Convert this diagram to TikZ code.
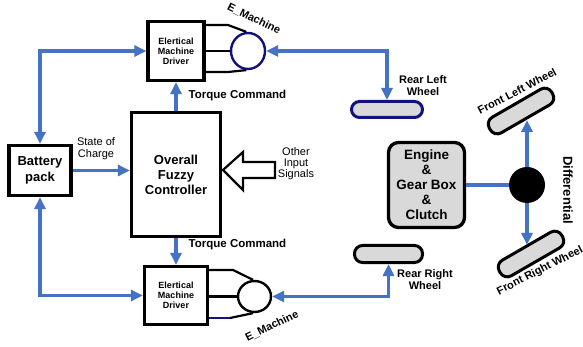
\documentclass[tikz,border=0pt]{standalone}
\usepackage{fontspec}
\setmainfont{Liberation Sans}
\usetikzlibrary{arrows.meta,shapes.geometric}
\definecolor{lblue}{HTML}{4472C4}
\definecolor{navyc}{HTML}{12127E}
\definecolor{wgray}{HTML}{D9D9D9}
\begin{document}
\begin{tikzpicture}[x=1pt,y=-1pt,
  >={Triangle[length=12pt,width=11pt]},
  bl/.style={draw=lblue, line width=3.2pt},
  box/.style={draw, line width=3.3pt, fill=white, align=center, inner sep=0pt},
  wheel/.style={draw, line width=3pt, fill=wgray, rounded corners=8pt, inner sep=0pt},
  wire/.style={draw, line width=2.2pt},
  motor/.style={ellipse, draw, line width=2.4pt, fill=white, inner sep=0pt},
  lbl/.style={font=\bfseries\fontsize{11}{12}\selectfont, align=center, inner sep=0pt},
  txt/.style={font=\fontsize{11}{12}\selectfont, align=center, inner sep=0pt}
]
\useasboundingbox[fill=white] (0,0) rectangle (583,347);

% boxes
\node[box, minimum width=56pt, minimum height=59pt, font=\bfseries\fontsize{9}{10}\selectfont] (tdrv) at (176,51) {Elertical\\Machine\\Driver};
\node[box, minimum width=63pt, minimum height=58pt, font=\bfseries\fontsize{9}{10}\selectfont] (bdrv) at (176,295.5) {Elertical\\Machine\\Driver};
\node[box, minimum width=89pt, minimum height=124pt, font=\bfseries\fontsize{13}{15}\selectfont] (ctrl) at (176,174.5) {Overall\\Fuzzy\\Controller};
\node[box, minimum width=62pt, minimum height=50pt, font=\bfseries\fontsize{13}{16}\selectfont] (bat) at (40,170.5) {Battery\\pack};
\node[box, fill=wgray, rounded corners=10pt, minimum width=76pt, minimum height=85pt, font=\bfseries\fontsize{13.5}{15}\selectfont] (eng) at (426.5,185) {Engine\\\&\\Gear Box\\\&\\Clutch};

% motors
\node[motor, draw=navyc, minimum width=34pt, minimum height=36pt] (tmot) at (248,51) {};
\node[motor, minimum width=33pt, minimum height=31pt] (bmot) at (254.5,296.5) {};

% wheels
\node[wheel, draw=navyc, minimum width=71pt, minimum height=16pt] (rlw) at (387,109.5) {};
\node[wheel, minimum width=68pt, minimum height=17pt] (rrw) at (388.5,254) {};
\node[wheel, rotate=30, minimum width=72pt, minimum height=18pt] (flw) at (521,111) {};
\node[wheel, rotate=30, minimum width=72pt, minimum height=18pt] (frw) at (531,254) {};

% differential
\node[circle, fill=black, minimum size=36pt, inner sep=0pt] (diff) at (527,185) {};

% wires driver -> motor
\coordinate (ta) at (228,25);
\coordinate (tb) at (228,72);
\coordinate (ba) at (233,270);
\coordinate (bb) at (230,318);
\draw[wire] (tdrv.east |- ta) -- (ta) -- (tmot.95);
\draw[wire] (tdrv.east) -- (tmot.west);
\draw[wire] (tdrv.east |- tb) -- (tb) -- (tmot.-95);
\draw[wire] (bdrv.east |- ba) -- (ba) -- (bmot.95);
\draw[wire] (bdrv.east |- bmot.west) -- (bmot.west);
\draw[wire, draw=navyc] (bdrv.east |- bb) -- (bb);
\draw[wire] (bb) -- (bmot.-95);

% blue connectors
\draw[bl, <->] (bat.north) |- (tdrv.west);
\draw[bl, <->] (bat.south) |- (bdrv.west);
\draw[bl, ->] (bat.east) -- (bat.east -| ctrl.west);
\draw[bl, ->] (ctrl.north) -- (tdrv.south);
\draw[bl, ->] (ctrl.south) -- (bdrv.north);
\draw[bl, <->] (tmot.east) -| (rlw.north);
\draw[bl, <->] (bmot.east) -| (rrw.south);
\draw[bl] (eng.east) -- (diff.west);
\draw[bl, ->] (diff.north) -- (diff.north |- flw.south);
\draw[bl, ->] (diff.south) -- (diff.south |- frw.north);

% hollow input arrow
\draw[line width=2.2pt, fill=white, line join=miter]
  (223,170) -- (243,152) -- (243,162) -- (275,162) -- (275,178) -- (243,178) -- (243,190) -- cycle;

% labels
\node[lbl, font=\bfseries\fontsize{11.5}{13}\selectfont] (tc1) at (237.5,96) {Torque Command};
\node[lbl, font=\bfseries\fontsize{11.5}{13}\selectfont] (tc2) at (237.5,245) {Torque Command};
\node[lbl, rotate=-26] (em1) at (254,19) {E\_Machine};
\node[lbl, rotate=26] (em2) at (272,326) {E\_Machine};
\node[txt] (soc) at (96,149) {State of\\Charge};
\node[txt, font=\fontsize{11}{11}\selectfont] (ois) at (296,164) {Other\\Input\\Signals};
\node[lbl] (rlt) at (423,86) {Rear Left\\Wheel};
\node[lbl] (rrt) at (425,280) {Rear Right\\Wheel};
\node[lbl, rotate=27] (flt) at (517,91) {Front Left Wheel};
\node[lbl, rotate=27] (frt) at (540,271) {Front Right Wheel};
\node[lbl, rotate=-90, font=\bfseries\fontsize{13}{14}\selectfont] (dlt) at (568,190) {Differential};
\end{tikzpicture}
\end{document}
